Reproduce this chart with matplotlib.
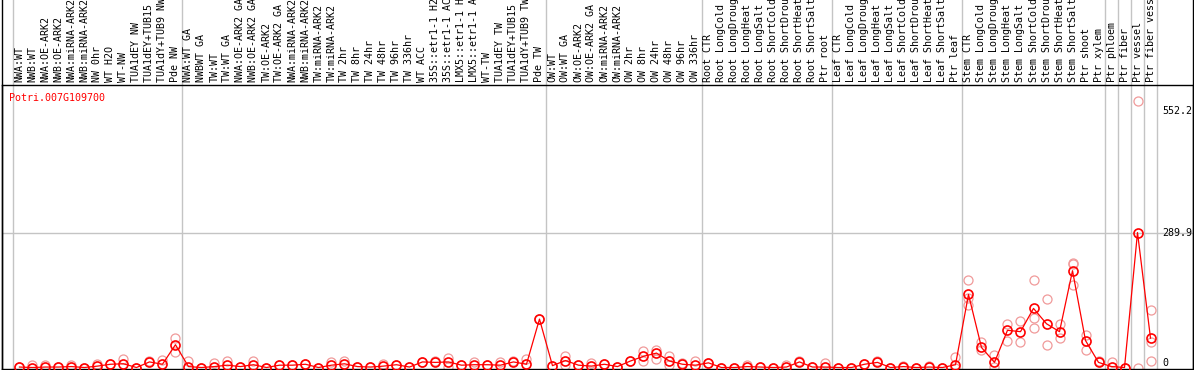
import numpy as np
import matplotlib.pyplot as plt
from matplotlib.transforms import blended_transform_factory
from matplotlib.lines import Line2D

gene = 'Potri.007G109700'

labels = [
    # NW group
    'NWA:WT', 'NWB:WT', 'NWA:OE-ARK2', 'NWB:OE-ARK2', 'NWA:miRNA-ARK2', 'NWB:miRNA-ARK2',
    'NW 0hr', 'WT H2O', 'WT-NW', 'TUA1dEY NW', 'TUA1dEY+TUB15 NW', 'TUA1dY+TUB9 NW', 'Pde NW',
    # TW group
    'NWA:WT GA', 'NWBWT GA', 'TW:WT', 'TW:WT GA', 'NWA:OE-ARK2 GA', 'NWB:OE-ARK2 GA',
    'TW:OE-ARK2', 'TW:OE-ARK2 GA', 'NWA:miRNA-ARK2', 'NWB:miRNA-ARK2', 'TW:miRNA-ARK2',
    'TW:miRNA-ARK2', 'TW 2hr', 'TW 8hr', 'TW 24hr', 'TW 48hr', 'TW 96hr', 'TW 336hr', 'WT ACC',
    '35S::etr1-1 H2O', '35S::etr1-1 ACC', 'LMX5::etr1-1 H2O', 'LMX5::etr1-1 ACC', 'WT-TW',
    'TUA1dEY TW', 'TUA1dEY+TUB15 TW', 'TUA1dY+TUB9 TW', 'Pde TW',
    # OW group
    'OW:WT', 'OW:WT GA', 'OW:OE-ARK2', 'OW:OE-ARK2 GA', 'OW:miRNA-ARK2', 'OW:miRNA-ARK2',
    'OW 2hr', 'OW 8hr', 'OW 24hr', 'OW 48hr', 'OW 96hr', 'OW 336hr',
    # root
    'Root CTR', 'Root LongCold', 'Root LongDrought', 'Root LongHeat', 'Root LongSalt',
    'Root ShortCold', 'Root ShortDrought', 'Root ShortHeat', 'Root ShortSalt', 'Ptr root',
    # leaf
    'Leaf CTR', 'Leaf LongCold', 'Leaf LongDrought', 'Leaf LongHeat', 'Leaf LongSalt',
    'Leaf ShortCold', 'Leaf ShortDrought', 'Leaf ShortHeat', 'Leaf ShortSalt', 'Ptr leaf',
    # stem
    'Stem CTR', 'Stem LongCold', 'Stem LongDrought', 'Stem LongHeat', 'Stem LongSalt',
    'Stem ShortCold', 'Stem ShortDrought', 'Stem ShortHeat', 'Stem ShortSalt', 'Ptr shoot',
    'Ptr xylem',
    'Ptr phloem', 'Ptr fiber', 'Ptr vessel', 'Ptr fiber vessel',
]
group_sizes = [13, 28, 12, 10, 10, 11, 1, 1, 1, 1]

means = [
    1, 0, 1, 1, 2, 0, 3, 7, 8, 0, 12, 7, 49,
    2, 0, 2, 5, 2, 6, 0, 5, 5, 7, 0, 5, 8, 2, 1, 3, 6, 1, 12, 11, 12, 5, 6, 6, 5, 12, 7, 104,
    4, 15, 5, 3, 7, 2, 14, 24, 31, 14, 7, 5,
    10, 0, 0, 2, 1, 0, 1, 12, 1, 1,
    0, 0, 7, 11, 0, 2, 0, 1, 0, 6,
    157, 43, 11, 80, 77, 127, 94, 77, 208, 58, 11,
    2, 0, 289.9, 63,
]

# replicate values that stand apart from the mean, by sample index
replicates = {
    1: [5], 2: [5], 4: [5], 6: [8], 8: [19], 10: [14], 11: [17], 12: [63, 33],
    13: [13], 15: [9], 16: [15], 18: [14], 24: [11], 25: [13], 28: [8], 32: [14],
    33: [21, 2], 35: [12], 37: [11], 38: [15], 39: [19], 42: [25, 5], 44: [9],
    48: [36, 15], 49: [38, 18], 50: [24, 6], 51: [10], 52: [14], 56: [5], 59: [5],
    60: [14], 62: [9], 66: [15], 68: [4], 70: [3], 72: [22, 0], 73: [187, 150, 135],
    74: [54, 38], 75: [27, 2], 76: [93, 57], 77: [99, 55], 78: [189, 106, 85],
    79: [148, 49], 80: [93, 64], 81: [224, 222, 178], 82: [70, 38], 83: [13],
    84: [11], 86: [572, 0], 87: [124, 54, 15],
}

tick_vals = [0, 289.9, 552.2]
tick_labels = ['0', '289.9', '552.2']

W, H = 1194, 370
mono = 'DejaVu Sans Mono'
fs = 7.2

fig = plt.figure(figsize=(W / 100, H / 100), dpi=100)
ax = fig.add_axes([1.5 / W, 1 / H, 1191 / W, 284 / H])
x = np.arange(len(labels))
ax.set_xlim(-1.38, 90.23)
ax.set_ylim(-3.2, 607)
ax.set_xticks([])
ax.set_yticks([])
for sp in ax.spines.values():
    sp.set_color('black')
    sp.set_linewidth(1)

# group separators run up through the label area
seps = np.concatenate([[0], np.cumsum(group_sizes)]) - 0.5
for s in seps:
    ax.axvline(s, 0, 1 + 85 / 284, color='#c4c4c4', lw=1, clip_on=False, zorder=0)
ax.axhline(tick_vals[1], color='#c4c4c4', lw=1, zorder=0)

# replicates
rx, ry = [], []
for i, m in enumerate(means):
    for v in replicates.get(i, [m]):
        rx.append(i)
        ry.append(v)
ax.plot(rx, ry, 'o', ms=6.5, mfc='none', mec='#f09a9a', mew=0.9, ls='none', zorder=2)

ax.plot(x, means, '-', color='red', lw=0.9, zorder=3)
ax.plot(x, means, 'o', ms=6.5, mfc='none', mec='red', mew=1.2, ls='none', zorder=4)

# sample labels
trans_x = blended_transform_factory(ax.transData, ax.transAxes)
for i, lab in enumerate(labels):
    ax.text(i, 1 + 3 / 284, lab, rotation=90, ha='center', va='bottom',
            transform=trans_x, clip_on=False, fontsize=fs, family=mono)

# value labels at the right
trans_y = blended_transform_factory(ax.transAxes, ax.transData)
for v, lab in zip(tick_vals, tick_labels):
    ax.text(0.975, v, lab, ha='left', va='bottom' if v == 0 else 'center',
            transform=trans_y, fontsize=fs, family=mono)

ax.text(8 / 1191, 0.954, gene, color='red', ha='left', va='center',
        transform=ax.transAxes, fontsize=fs, family=mono)

# outer frame lines on left and right
for px in (1.5, 1192.5):
    fig.add_artist(Line2D([px / W, px / W], [0, 1], transform=fig.transFigure,
                          color='black', lw=1))

fig.savefig('out.png', dpi=100)
